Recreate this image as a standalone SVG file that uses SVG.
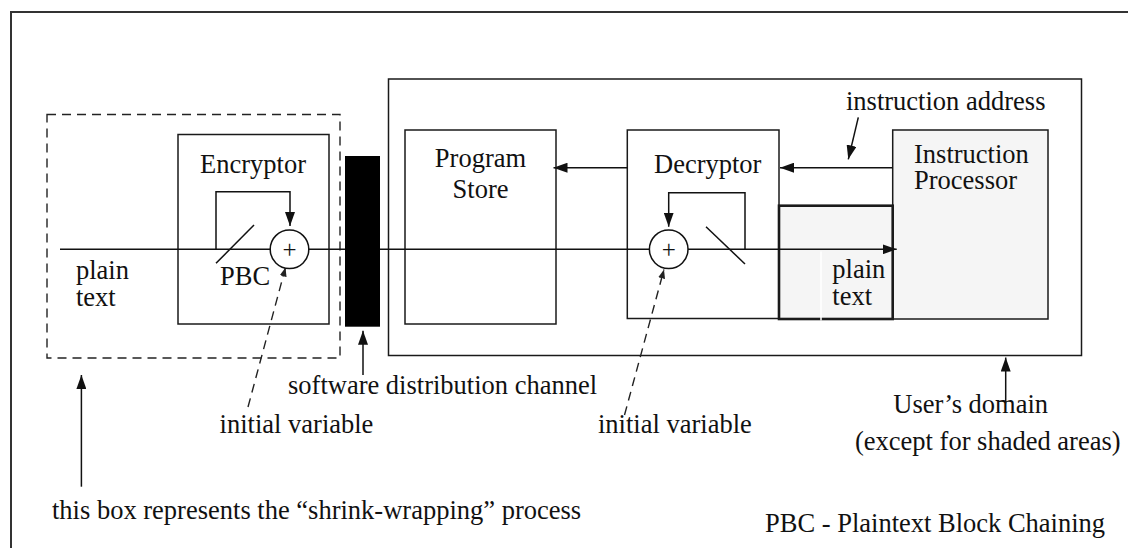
<svg xmlns="http://www.w3.org/2000/svg" width="1128" height="548" viewBox="0 0 1128 548">
<style>
text{font-family:"Liberation Serif","Times New Roman",serif;font-size:26.5px;fill:#111}
.box{fill:#fff;stroke:#1a1a1a;stroke-width:1.5}
.shade{fill:#f5f5f5;stroke:#1a1a1a;stroke-width:1.5}
.thick{fill:#f5f5f5;stroke:#1a1a1a;stroke-width:2.6}
.ln{fill:none;stroke:#111;stroke-width:1.5}
.dash{fill:none;stroke:#222;stroke-width:1.4;stroke-dasharray:9 6}
.xor{fill:#fff;stroke:#111;stroke-width:1.5}
.plus{font-size:25px;text-anchor:middle}
</style>
<defs>
<marker id="ah" markerUnits="userSpaceOnUse" markerWidth="14" markerHeight="10" refX="14" refY="5" orient="auto">
<path d="M0,0 L14,5 L0,10 z" fill="#111"/>
</marker>
<marker id="ahs" markerUnits="userSpaceOnUse" markerWidth="9" markerHeight="7" refX="9" refY="3.5" orient="auto">
<path d="M0,0 L9,3.5 L0,7 z" fill="#222"/>
</marker>
</defs>
<rect width="1128" height="548" fill="#fff"/>
<g id="frame"><path d="M11,560 V12 H1140" fill="none" stroke="#333" stroke-width="2"/></g>
<g id="shrink-wrap"><rect class="dash" x="47" y="114.5" width="293" height="243.5"/></g>
<g id="encryptor"><rect class="box" x="178" y="134.5" width="151" height="189.5"/><text x="200" y="173.3">Encryptor</text></g>
<g id="user-domain"><rect class="box" x="388.5" y="79" width="693" height="276.5" fill="none"/></g>
<g id="program-store"><rect class="box" x="405" y="130" width="151" height="194"/><text x="480.5" y="167" text-anchor="middle">Program</text><text x="480.5" y="198" text-anchor="middle">Store</text></g>
<g id="decryptor"><rect class="box" x="627.3" y="130" width="151.7" height="188.5"/><text x="654" y="172.7">Decryptor</text></g>
<g id="instruction-processor"><rect class="shade" x="892.7" y="130" width="155.3" height="189"/><text x="914" y="162.7">Instruction</text><text x="914" y="189">Processor</text></g>
<g id="shaded-plain-text"><rect class="thick" x="779" y="205.7" width="113.7" height="113.3"/><text x="832.3" y="278.3">plain</text><text x="832.3" y="305">text</text></g>
<g id="connectors">
<path class="ln" d="M60,249.3 H896.7" marker-end="url(#ah)"/>
<path class="ln" d="M216,249.3 V191.7 H290 V226" marker-end="url(#ah)"/>
<path class="ln" d="M216,263.3 L254,225"/>
<path class="ln" d="M745,249.3 V192.7 H668.7 V226.7" marker-end="url(#ah)"/>
<path class="ln" d="M706,226.7 L745,264"/>
<path class="ln" d="M627.3,167.7 H553.5" marker-end="url(#ah)"/>
<path class="ln" d="M892.7,167.7 H780" marker-end="url(#ah)"/>
<path class="ln" d="M858.3,117.3 L848.3,159.3" marker-end="url(#ah)"/>
<path class="dash" d="M248,407 L285.5,267.5" marker-end="url(#ahs)"/>
<path class="dash" d="M624.5,415 L664,269.5" marker-end="url(#ahs)"/>
<path class="ln" d="M81.4,486.7 V375" marker-end="url(#ah)"/>
<path class="ln" d="M363,375 V330.7" marker-end="url(#ah)"/>
<path class="ln" d="M1005.7,403.3 V357.5" marker-end="url(#ah)"/>
<path d="M821,251.5 V320.5" stroke="#fff" stroke-width="1.5"/>
</g>
<g id="enc-xor"><circle class="xor" cx="289.5" cy="249.3" r="19.3"/><text class="plus" x="289.5" y="257.5">+</text></g>
<g id="dec-xor"><circle class="xor" cx="668.7" cy="249.3" r="19.3"/><text class="plus" x="668.7" y="257.5">+</text></g>
<g id="channel"><rect x="345" y="156" width="35" height="170.7" fill="#000"/></g>
<g id="labels">
<text x="76" y="279.3">plain</text><text x="76" y="305.5">text</text>
<text x="220" y="285">PBC</text>
<text x="846" y="110">instruction address</text>
<text x="288" y="394">software distribution channel</text>
<text x="219.6" y="433.3">initial variable</text>
<text x="598" y="433.3">initial variable</text>
<text x="893.3" y="413.3">User’s domain</text>
<text x="855" y="450">(except for shaded areas)</text>
<text x="52" y="518.5">this box represents the “shrink-wrapping” process</text>
<text x="765" y="531.5">PBC - Plaintext Block Chaining</text>
</g>
</svg>
